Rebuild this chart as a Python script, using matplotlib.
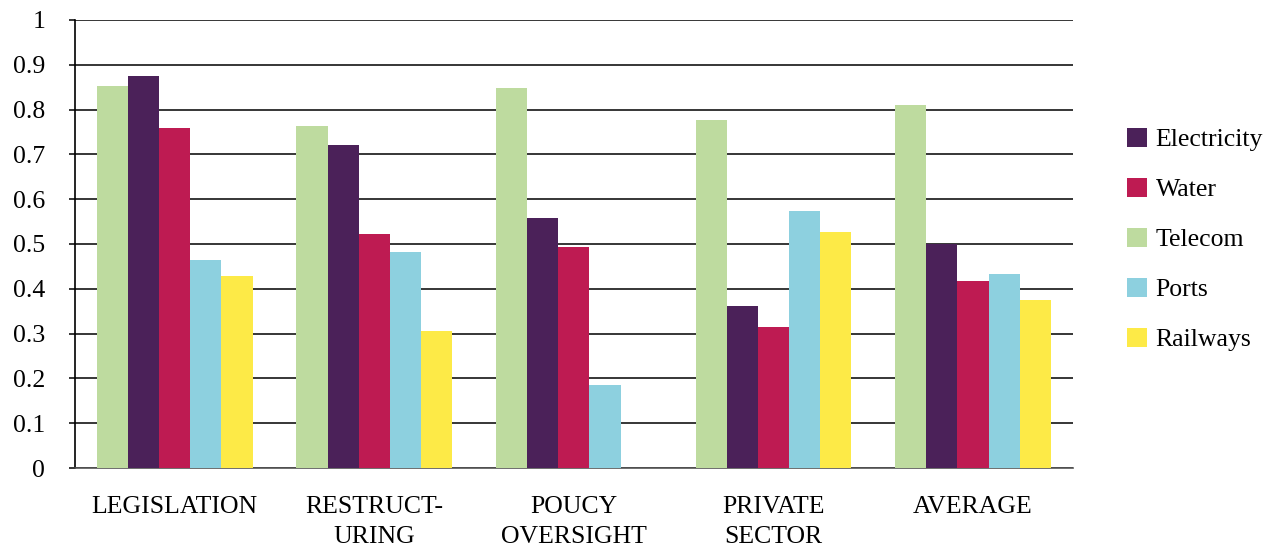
import numpy as np
import matplotlib.pyplot as plt
from matplotlib.patches import Patch

# categorias y valores
categorias = ['LEGISLATION', 'RESTRUCT-\nURING', 'POUCY\nOVERSIGHT', 'PRIVATE\nSECTOR', 'AVERAGE']
telecom = [0.853, 0.763, 0.848, 0.777, 0.810]
electricidad = [0.875, 0.721, 0.558, 0.362, 0.500]
agua = [0.759, 0.522, 0.493, 0.315, 0.417]
puertos = [0.464, 0.482, 0.185, 0.574, 0.433]
ferrocarriles = [0.429, 0.306, 0.0, 0.527, 0.375]

colores = {
    'Electricity': '#4b2159',
    'Water': '#be1b52',
    'Telecom': '#bedb9f',
    'Ports': '#8dd0df',
    'Railways': '#fdea47',
}

plt.rcParams['font.family'] = ['Liberation Serif', 'DejaVu Serif']

fig = plt.figure(figsize=(12.71, 5.52), dpi=100)
ax = fig.add_axes([0.059, 0.152, 0.785, 0.812])

x = np.arange(len(categorias))
ancho = 0.156
series = [
    ('Telecom', telecom),
    ('Electricity', electricidad),
    ('Water', agua),
    ('Ports', puertos),
    ('Railways', ferrocarriles),
]
for i, (nombre, valores) in enumerate(series):
    ax.bar(x + (i - 2) * ancho, valores, ancho, color=colores[nombre], zorder=3)

ax.set_xlim(-0.5, len(categorias) - 0.5)
ax.set_ylim(0, 1)
ax.set_yticks(np.arange(0, 1.01, 0.1))
ax.set_yticklabels(['0'] + ['%.1f' % v for v in np.arange(0.1, 0.95, 0.1)] + ['1'])
ax.grid(axis='y', color='black', linewidth=1.1, zorder=0)
ax.set_xticks(x)
ax.set_xticklabels(categorias, linespacing=1.5)

for lado in ['top', 'right']:
    ax.spines[lado].set_visible(False)
ax.spines['left'].set_linewidth(1.2)
ax.spines['bottom'].set_linewidth(1.2)
ax.spines['bottom'].set_color('#555555')
ax.tick_params(axis='y', labelsize=18.5, length=4.5, width=1.1, pad=17)
ax.tick_params(axis='x', labelsize=18.5, length=0, pad=20)

orden = ['Electricity', 'Water', 'Telecom', 'Ports', 'Railways']
handles = [Patch(facecolor=colores[n], label=n) for n in orden]
fig.legend(handles=handles, loc='center left', bbox_to_anchor=(0.887, 0.566),
           frameon=False, fontsize=18.5, handlelength=0.75, handleheight=0.75,
           handletextpad=0.35, labelspacing=1.04, borderpad=0, borderaxespad=0)

plt.savefig('out.png', dpi=100)
